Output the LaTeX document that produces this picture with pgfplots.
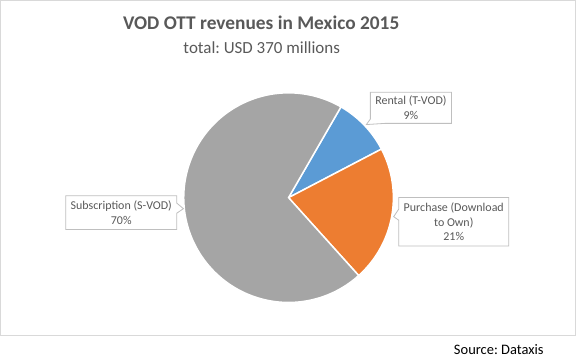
\documentclass[border=0pt]{standalone}
\usepackage{pgfplots}
\pgfplotsset{compat=1.18}
\usepackage{pgfplotstable}
\usepackage{fontspec}
\setmainfont{Carlito}
\frenchspacing
\definecolor{txt}{HTML}{595959}
\definecolor{frame}{HTML}{D9D9D9}
\definecolor{callout}{HTML}{BFBFBF}
\definecolor{cblue}{HTML}{5B9BD5}
\definecolor{corange}{HTML}{ED7D31}
\definecolor{cgray}{HTML}{A5A5A5}
% shares in percent: Rental 9, Purchase 21, Subscription 70
% first slice starts at 60 deg, slices run clockwise (3.6 deg per percent)
\pgfplotstableread{
name         pct start end
Rental       9   27.6  60
Purchase     21  -48   27.6
Subscription 70  -300  -48
}\piedata
\begin{document}
\begin{tikzpicture}
\begin{axis}[
  scale only axis, width=576bp, height=363bp,
  xmin=0, xmax=576, ymin=0, ymax=363, y dir=reverse,
  hide axis, clip=false,
]
% chart frame
\draw[frame, line width=0.8bp] (axis cs:0.5,0.5) rectangle (axis cs:575,335.5);
% slices
\def\cx{288.3}\def\cy{197.5}\def\r{104.7}
\addplot[fill=cblue, draw=white, line width=1.5bp, domain=27.6:60, samples=40, variable=\t]
  ({\cx+\r*cos(t)},{\cy-\r*sin(t)}) -- (axis cs:\cx,\cy) -- cycle;
\addplot[fill=corange, draw=white, line width=1.5bp, domain=-48:27.6, samples=60, variable=\t]
  ({\cx+\r*cos(t)},{\cy-\r*sin(t)}) -- (axis cs:\cx,\cy) -- cycle;
\addplot[fill=cgray, draw=white, line width=1.5bp, domain=-300:-48, samples=150, variable=\t]
  ({\cx+\r*cos(t)},{\cy-\r*sin(t)}) -- (axis cs:\cx,\cy) -- cycle;
% titles
\node[txt, font=\fontsize{19.4}{22}\selectfont\bfseries] at (axis cs:261,22.5) {VOD OTT revenues in Mexico 2015};
\node[txt, font=\fontsize{17}{19}\selectfont] at (axis cs:261.5,48) {total: USD 370 millions};
% callouts
\draw[callout, fill=white, line width=0.8bp] (axis cs:370,92.3) -- (axis cs:451,92.3) -- (axis cs:451,123.3) -- (axis cs:385,123.3) -- (axis cs:366,124.5) -- (axis cs:370,119) -- cycle;
\node[txt, font=\fontsize{12}{14.5}\selectfont, align=center] at (axis cs:410.5,107.5) {Rental (T-VOD)\\9\%};
\draw[callout, fill=white, line width=0.8bp] (axis cs:398.3,197.3) -- (axis cs:508.3,197.3) -- (axis cs:508.3,245.7) -- (axis cs:398.3,245.7) -- (axis cs:398.3,220) -- (axis cs:393.3,216.5) -- (axis cs:398.3,209) -- cycle;
\node[txt, font=\fontsize{12}{15}\selectfont, align=center] at (axis cs:453.3,221.5) {Purchase (Download\\to Own)\\21\%};
\draw[callout, fill=white, line width=0.8bp] (axis cs:65.7,195.7) -- (axis cs:176.7,195.7) -- (axis cs:176.7,203) -- (axis cs:183.3,208.5) -- (axis cs:176.7,213) -- (axis cs:176.7,229.3) -- (axis cs:65.7,229.3) -- cycle;
\node[txt, font=\fontsize{12}{15}\selectfont, align=center] at (axis cs:121.2,212.5) {Subscription (S-VOD)\\70\%};
% source
\node[black, font=\fontsize{14.5}{16}\selectfont, anchor=east] at (axis cs:546.5,349) {Source: Dataxis};
\end{axis}
\end{tikzpicture}
\end{document}
